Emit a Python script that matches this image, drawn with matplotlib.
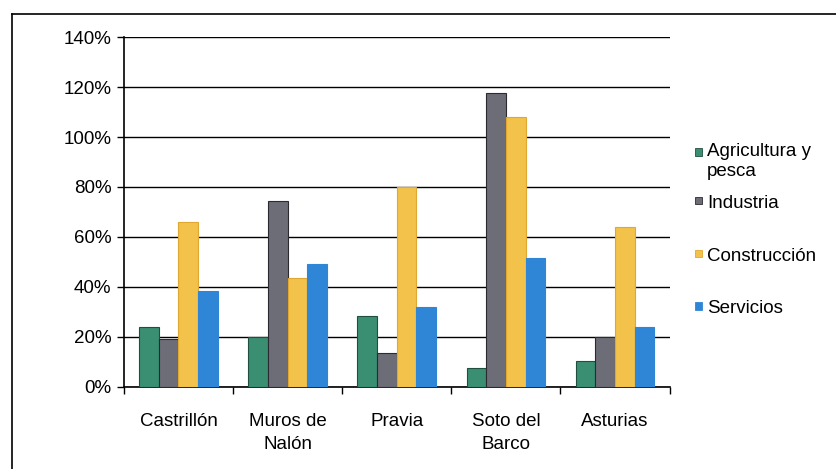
import numpy as np
import matplotlib
matplotlib.use('Agg')
import matplotlib.pyplot as plt
from matplotlib.patches import Rectangle
from matplotlib.lines import Line2D
from matplotlib.ticker import PercentFormatter

plt.rcParams['font.family'] = ['Liberation Sans', 'DejaVu Sans']

# datos
municipios = ['Castrillón', 'Muros de\nNalón', 'Pravia', 'Soto del\nBarco', 'Asturias']
agricultura = [24, 20, 28.5, 7.5, 10.5]
industria = [19, 74.5, 13.5, 117.5, 20]
construccion = [66, 43.5, 80, 108, 64]
servicios = [38.5, 49, 32, 51.5, 24]

series = ['Agricultura y\npesca', 'Industria', 'Construcción', 'Servicios']
valores = [agricultura, industria, construccion, servicios]
colores = ['#3a8f72', '#6d6d78', '#f3c24a', '#2f86d6']
bordes = ['#1f4f3f', '#2a2a30', '#e0a830', '#2f86d6']

fig = plt.figure(figsize=(8.37, 4.69), dpi=100)
ax = fig.add_axes([0.148, 0.175, 0.652, 0.746])

x = np.arange(len(municipios))
w = 0.18
for i, vals in enumerate(valores):
    ax.bar(x + (i - 1.5) * w, vals, w, color=colores[i], edgecolor=bordes[i],
           linewidth=0.8, zorder=3)

ax.set_xlim(-0.5, len(municipios) - 0.5)
ax.set_ylim(0, 140)
ax.set_yticks(np.arange(0, 141, 20))
ax.yaxis.set_major_formatter(PercentFormatter(decimals=0))
ax.yaxis.grid(True, color='black', linewidth=1.0, zorder=0)
ax.set_xticks(x)
ax.set_xticklabels(municipios, fontsize=13.5, linespacing=1.4)
ax.set_xticks(np.arange(-0.5, len(municipios), 1), minor=True)
ax.tick_params(axis='x', which='major', length=0, pad=19)
ax.tick_params(axis='x', which='minor', length=5, direction='out', width=1)
ax.tick_params(axis='y', labelsize=13.5, length=5, width=1, pad=4)
for s in ['top', 'right']:
    ax.spines[s].set_visible(False)
ax.spines['left'].set_linewidth(1.2)
ax.spines['bottom'].set_linewidth(1.2)

# leyenda manual
leg_y = [0.676, 0.573, 0.460, 0.349]
for i, lab in enumerate(series):
    fig.patches.append(Rectangle((0.830, leg_y[i] - 0.009), 0.009, 0.017,
                                 transform=fig.transFigure, facecolor=colores[i],
                                 edgecolor=bordes[i], linewidth=0.6))
    if '\n' in lab:
        fig.text(0.845, leg_y[i] + 0.020, lab, fontsize=13.5, va='top', ha='left',
                 linespacing=1.3)
    else:
        fig.text(0.845, leg_y[i] - 0.006, lab, fontsize=13.5, va='center', ha='left')

# marco exterior
fig.lines.append(Line2D([0.014, 1.0], [0.970, 0.970], transform=fig.transFigure,
                        color='black', linewidth=1.2))
fig.lines.append(Line2D([0.014, 0.014], [0.0, 0.970], transform=fig.transFigure,
                        color='black', linewidth=1.2))

fig.savefig('out.png', dpi=100)
